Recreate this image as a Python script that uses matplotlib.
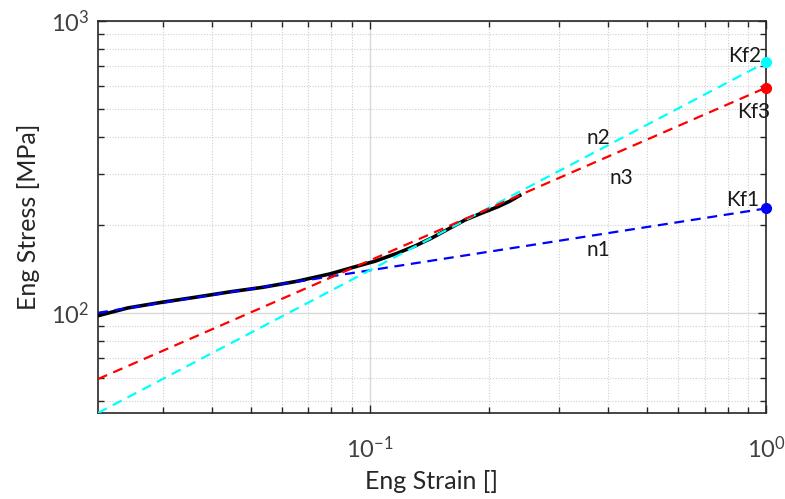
import numpy as np
import matplotlib
matplotlib.use("Agg")
import matplotlib.pyplot as plt

plt.rcParams['font.family'] = ['Lato', 'DejaVu Sans']
plt.rcParams['mathtext.fontset'] = 'custom'
plt.rcParams['mathtext.rm'] = 'Lato'
plt.rcParams['mathtext.it'] = 'Lato:italic'

# Measured engineering stress-strain curve
strain = [0.0206, 0.0245, 0.0298, 0.0362, 0.0448, 0.0537, 0.0654, 0.0793,
          0.0960, 0.1030, 0.1177, 0.1300, 0.1434, 0.1580, 0.1737, 0.1920,
          0.2104, 0.2250, 0.2390]
stress = [97.8, 104.0, 108.7, 113.1, 118.3, 122.4, 128.3, 136.0,
          146.4, 150.3, 160.4, 169.5, 180.6, 194.0, 208.0, 220.0,
          231.0, 241.0, 252.5]

# Power-law fits  sigma = Kf * eps^n
fit_K = [228.0, 722.0, 591.0]
fit_n = [0.212, 0.7125, 0.592]
fit_colors = ['#0000ff', '#00ffff', '#ff0000']

x_lo, x_hi = 0.0206, 1.0
y_lo, y_hi = 45.4, 1000.0

fig = plt.figure(figsize=(7.85, 4.99), dpi=100)
ax = fig.add_axes([0.1248, 0.1723, 0.851, 0.7856])

ax.plot(strain, stress, color='black', lw=2.6, zorder=3)

ends = np.array([x_lo, x_hi])
for K, n, col in zip(fit_K, fit_n, fit_colors):
    ax.plot(ends, K * ends ** n, '--', color=col, lw=1.6, dashes=(4.5, 3), zorder=4)
    ax.plot(1.0, K, 'o', color=col, ms=7, clip_on=False, zorder=5)

txt = dict(fontsize=15, color='#1a1a1a', ha='center', va='center')
ax.text(0.377, 164, 'n1', **txt)
ax.text(0.377, 397, 'n2', **txt)
ax.text(0.431, 290, 'n3', **txt)
ax.text(0.885, 759, 'Kf2', **txt)
ax.text(0.930, 488, 'Kf3', **txt)
ax.text(0.875, 244, 'Kf1', **txt)

ax.set_xscale('log')
ax.set_yscale('log')
ax.set_xlim(x_lo, x_hi)
ax.set_ylim(y_lo, y_hi)

ax.grid(True, which='major', color='#d9d9d9', lw=1.0, ls='-')
ax.grid(True, which='minor', color='#d0d0d0', lw=0.8, ls=(0, (1, 1.5)))
ax.set_axisbelow(True)

ax.tick_params(which='both', direction='in', top=True, right=True,
               colors='#262626', labelcolor='#404040', labelsize=17, pad=16)
ax.tick_params(which='major', length=6, width=1)
ax.tick_params(which='minor', length=4, width=1)
ax.tick_params(axis='y', pad=6)
ax.yaxis.set_minor_formatter(plt.NullFormatter())
ax.xaxis.set_minor_formatter(plt.NullFormatter())
for s in ax.spines.values():
    s.set_color('#262626')
    s.set_linewidth(1.2)

ax.set_xlabel('Eng Strain []', fontsize=18, color='#262626', labelpad=6)
ax.set_ylabel('Eng Stress [MPa]', fontsize=18, color='#262626', labelpad=8)

fig.savefig('out.png', dpi=100)
